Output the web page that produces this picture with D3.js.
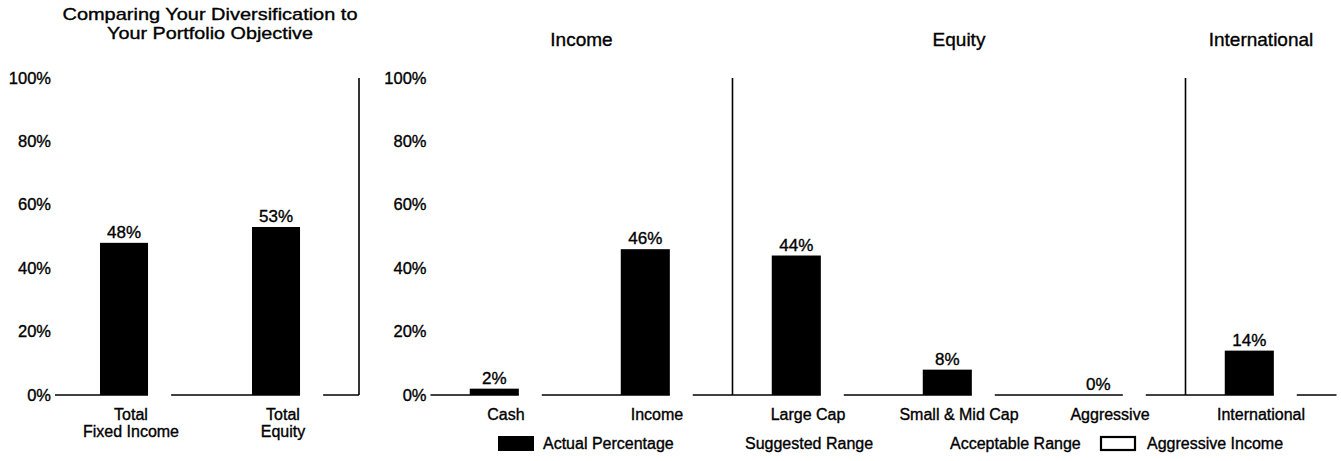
<!DOCTYPE html>
<html>
<head>
<meta charset="utf-8">
<script src="https://cdn.jsdelivr.net/npm/d3@7/dist/d3.min.js"></script>
<style>
  html, body { margin: 0; padding: 0; background: #fff; }
  svg text { font-family: "Liberation Sans", Arial, Helvetica, sans-serif; fill: #000; stroke: #000; stroke-width: 0.35px; }
</style>
</head>
<body>
<svg id="chart" width="1341" height="461"></svg>
<script>
// ---------- data ----------
const overviewTitle = ["Comparing Your Diversification to", "Your Portfolio Objective"];
const overviewCategories = ["Total Fixed Income", "Total Equity"];
const overviewLabelLines = [["Total", "Fixed Income"], ["Total", "Equity"]];
const overviewValues = [48, 53];

const detailCategories = ["Cash", "Income", "Large Cap", "Small & Mid Cap", "Aggressive", "International"];
const detailValues = [2, 46, 44, 8, 0, 14];
const groupTitles = ["Income", "Equity", "International"];
const groupMembers = [["Cash", "Income"], ["Large Cap", "Small & Mid Cap", "Aggressive"], ["International"]];

const yTicks = [0, 20, 40, 60, 80, 100];
const legendLabels = ["Actual Percentage", "Suggested Range", "Acceptable Range", "Aggressive Income"];

// ---------- layout ----------
const svg = d3.select("#chart");
const y = d3.scaleLinear().domain([0, 100]).range([395, 78]);
const fmt = d => d + "%";

function drawPanel(opts) {
  const g = svg.append("g");
  const x = d3.scaleBand().domain(opts.categories).range(opts.range).padding(0);
  const bw = x.bandwidth();
  const barX = c => x(c) + bw * opts.barOffset;
  const barW = bw * opts.barWidth;
  const gapW = bw * 0.152;

  // y tick labels
  g.selectAll("text.ytick").data(yTicks).join("text")
    .attr("class", "ytick")
    .attr("x", opts.range[0] - 4)
    .attr("y", d => y(d))
    .attr("dy", "0.34em")
    .attr("text-anchor", "end")
    .style("font-size", "16.5px")
    .text(fmt);

  // broken baseline: segments with a gap right after each bar
  const segs = [];
  let start = opts.range[0];
  opts.categories.forEach(c => {
    const end = barX(c) + barW;
    segs.push([start, end]);
    start = end + gapW;
  });
  segs.push([start, opts.range[1]]);
  g.selectAll("line.base").data(segs).join("line")
    .attr("class", "base")
    .attr("x1", d => d[0]).attr("x2", d => d[1])
    .attr("y1", y(0)).attr("y2", y(0))
    .attr("stroke", "#000").attr("stroke-width", 1.6);

  // bars
  g.selectAll("rect.bar").data(opts.values).join("rect")
    .attr("class", "bar")
    .attr("x", (d, i) => barX(opts.categories[i]))
    .attr("width", barW)
    .attr("y", d => y(d))
    .attr("height", d => y(0) - y(d))
    .attr("fill", "#000");

  // value labels
  g.selectAll("text.val").data(opts.values).join("text")
    .attr("class", "val")
    .attr("x", (d, i) => barX(opts.categories[i]) + barW / 2)
    .attr("y", d => y(d) - 5)
    .attr("text-anchor", "middle")
    .style("font-size", "17px")
    .text(fmt);

  // category labels
  const lab = g.selectAll("text.cat").data(opts.categories).join("text")
    .attr("class", "cat")
    .attr("x", c => x(c) + bw / 2)
    .attr("y", 419.5)
    .attr("text-anchor", "middle")
    .style("font-size", "16px");
  lab.selectAll("tspan").data((c, i) => opts.labelLines[i]).join("tspan")
    .attr("x", function () { return d3.select(this.parentNode).attr("x"); })
    .attr("dy", (d, j) => j === 0 ? 0 : 17)
    .text(d => d);

  // separators
  g.selectAll("line.sep").data(opts.separators).join("line")
    .attr("class", "sep")
    .attr("x1", d => opts.sepX(x, d)).attr("x2", d => opts.sepX(x, d))
    .attr("y1", y(100)).attr("y2", y(0))
    .attr("stroke", "#000").attr("stroke-width", 1.6);

  return x;
}

// overview panel
const x1 = drawPanel({
  categories: overviewCategories,
  values: overviewValues,
  labelLines: overviewLabelLines,
  range: [55, 359],
  barOffset: 0.296,
  barWidth: 0.316,
  separators: ["end"],
  sepX: (x) => x.range()[1]
});
const titleX = (x1.range()[0] + x1.range()[1]) / 2 + 3;
svg.append("text")
  .attr("x", titleX)
  .attr("y", 20)
  .attr("text-anchor", "middle")
  .style("font-size", "17px")
  .selectAll("tspan").data(overviewTitle).join("tspan")
  .attr("x", titleX)
  .attr("dy", (d, i) => i === 0 ? 0 : 19)
  .attr("textLength", (d, i) => i === 0 ? 295 : 206)
  .attr("lengthAdjust", "spacingAndGlyphs")
  .text(d => d);

// detail panel
const x2 = drawPanel({
  categories: detailCategories,
  values: detailValues,
  labelLines: detailCategories.map(c => [c]),
  range: [430.5, 1336.5],
  barOffset: 0.26,
  barWidth: 0.325,
  separators: groupMembers.slice(1).map(m => m[0]),
  sepX: (x, c) => x(c)
});
svg.selectAll("text.gtitle").data(groupTitles).join("text")
  .attr("class", "gtitle")
  .attr("x", (t, i) => {
    const m = groupMembers[i];
    return (x2(m[0]) + x2(m[m.length - 1]) + x2.bandwidth()) / 2;
  })
  .attr("y", 46)
  .attr("text-anchor", "middle")
  .style("font-size", "19px")
  .text(d => d);

// legend
const legendX = [498, 700, 905, 1100];
const lg = svg.selectAll("g.leg").data(legendLabels).join("g")
  .attr("class", "leg")
  .attr("transform", (d, i) => `translate(${legendX[i]},436)`);
lg.append("rect")
  .attr("fill", (d, i) => i === 0 ? "#000" : "none")
  .attr("stroke", (d, i) => i === 3 ? "#000" : "none")
  .attr("stroke-width", 2.2)
  .attr("x", (d, i) => i === 3 ? 1 : 0)
  .attr("y", (d, i) => i === 3 ? 1 : 0)
  .attr("width", (d, i) => i === 3 ? 34 : 36)
  .attr("height", (d, i) => i === 3 ? 13 : 15);
lg.append("text")
  .attr("x", (d, i) => i === 3 ? 47 : 45)
  .attr("y", 13)
  .style("font-size", "16px")
  .text(d => d);
</script>
</body>
</html>
